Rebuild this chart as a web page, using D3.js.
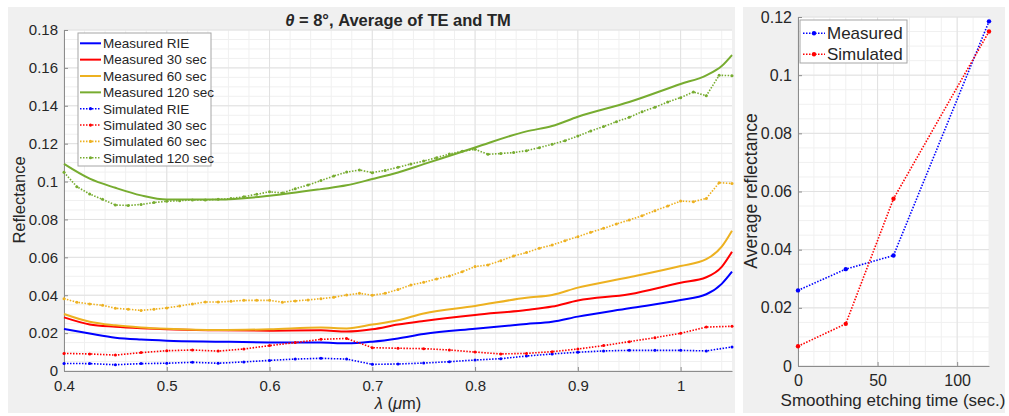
<!DOCTYPE html>
<html>
<head>
<meta charset="utf-8">
<script src="https://cdn.jsdelivr.net/npm/d3@7"></script>
<style>
body { margin: 0; background: #fff; }
svg text { font-family: "Liberation Sans", Arial, sans-serif; fill: #262626; }
</style>
</head>
<body>
<svg id="chart" width="1009" height="416"></svg>
<script>
// measured spectra (solid lines)
var lamMeas = [0.4, 0.425, 0.45, 0.475, 0.5, 0.55, 0.6, 0.65, 0.675, 0.7, 0.725, 0.75, 0.8, 0.85, 0.875, 0.9, 0.95, 1.0, 1.025, 1.04, 1.05];
var measRIE = [0.0222, 0.0198, 0.0176, 0.0166, 0.0160, 0.0155, 0.0151, 0.0150, 0.0146, 0.0155, 0.0172, 0.0195, 0.0223, 0.0248, 0.0260, 0.0287, 0.0331, 0.0375, 0.0405, 0.0460, 0.0524];
var meas30  = [0.0283, 0.0246, 0.0234, 0.0226, 0.0220, 0.0215, 0.0213, 0.0215, 0.0208, 0.0220, 0.0245, 0.0264, 0.0296, 0.0322, 0.0340, 0.0372, 0.0405, 0.0466, 0.0495, 0.0550, 0.0630];
var meas60  = [0.0301, 0.0260, 0.0241, 0.0230, 0.0223, 0.0216, 0.0220, 0.0229, 0.0225, 0.0245, 0.0268, 0.0304, 0.0343, 0.0387, 0.0401, 0.0440, 0.0495, 0.0554, 0.0590, 0.0656, 0.0740];
var meas120 = [0.1093, 0.1015, 0.0967, 0.0927, 0.0905, 0.0905, 0.0925, 0.0960, 0.0980, 0.1013, 0.1048, 0.1092, 0.1180, 0.1265, 0.1293, 0.1342, 0.1420, 0.1515, 0.1561, 0.1610, 0.1668];

// simulated spectra (dotted lines with dots)
var lamSimCoarse = [0.4, 0.425, 0.45, 0.475, 0.5, 0.525, 0.55, 0.575, 0.6, 0.625, 0.65, 0.675, 0.7, 0.725, 0.75, 0.775, 0.8, 0.825, 0.85, 0.875, 0.9, 0.925, 0.95, 0.975, 1.0, 1.025, 1.05];
var simRIE = [0.0040, 0.0039, 0.0033, 0.0039, 0.0041, 0.0046, 0.0041, 0.0048, 0.0056, 0.0063, 0.0067, 0.0063, 0.0035, 0.0037, 0.0042, 0.0049, 0.0058, 0.0065, 0.0079, 0.0090, 0.0099, 0.0106, 0.0109, 0.0109, 0.0109, 0.0106, 0.0127];
var sim30  = [0.0093, 0.0090, 0.0084, 0.0097, 0.0107, 0.0111, 0.0105, 0.0116, 0.0134, 0.0150, 0.0167, 0.0172, 0.0123, 0.0120, 0.0118, 0.0111, 0.0100, 0.0090, 0.0093, 0.0102, 0.0116, 0.0134, 0.0155, 0.0176, 0.0199, 0.0232, 0.0236];

var lamSimFine = [0.4, 0.4125, 0.425, 0.4375, 0.45, 0.4625, 0.475, 0.4875, 0.5, 0.5125, 0.525, 0.5375, 0.55, 0.5625, 0.575, 0.5875,
    0.6, 0.6125, 0.625, 0.6375, 0.65, 0.6625, 0.675, 0.6875, 0.7, 0.7125, 0.725, 0.7375, 0.75, 0.7625, 0.775, 0.7875,
    0.8, 0.8125, 0.825, 0.8375, 0.85, 0.8625, 0.875, 0.8875, 0.9, 0.9125, 0.925, 0.9375, 0.95, 0.9625, 0.975, 0.9875,
    1.0, 1.0125, 1.025, 1.0375, 1.05];
var sim60 = [0.0382, 0.0363, 0.0354, 0.0347, 0.0331, 0.0326, 0.0320, 0.0326, 0.0333, 0.0343, 0.0354, 0.0364, 0.0364, 0.0368, 0.0373, 0.0373,
    0.0373, 0.0363, 0.0370, 0.0375, 0.0382, 0.0389, 0.0401, 0.0410, 0.0400, 0.0410, 0.0430, 0.0454, 0.0468, 0.0486, 0.0501, 0.0524,
    0.0551, 0.0560, 0.0582, 0.0607, 0.0625, 0.0648, 0.0665, 0.0688, 0.0709, 0.0732, 0.0753, 0.0776, 0.0797, 0.0820, 0.0846, 0.0871,
    0.0897, 0.0894, 0.0911, 0.0994, 0.0990];
var sim120 = [0.1049, 0.0973, 0.0934, 0.0906, 0.0876, 0.0874, 0.0879, 0.0889, 0.0896, 0.0899, 0.0903, 0.0903, 0.0906, 0.0910, 0.0920, 0.0933,
    0.0946, 0.0940, 0.0962, 0.0982, 0.1005, 0.1029, 0.1050, 0.1061, 0.1047, 0.1059, 0.1075, 0.1093, 0.1108, 0.1126, 0.1145, 0.1160,
    0.1170, 0.1144, 0.1148, 0.1153, 0.1163, 0.1179, 0.1197, 0.1216, 0.1240, 0.1267, 0.1290, 0.1316, 0.1339, 0.1369, 0.1392, 0.1420,
    0.1443, 0.1473, 0.1453, 0.1561, 0.1559];

// average reflectance vs etching time
var etchTimes = [0, 30, 60, 120];
var avgMeasured = [0.0260, 0.0333, 0.0380, 0.1185];
var avgSimulated = [0.0068, 0.0145, 0.0575, 0.1150];

var xTicksLeft = [0.4, 0.5, 0.6, 0.7, 0.8, 0.9, 1];
var yTicksLeft = [0, 0.02, 0.04, 0.06, 0.08, 0.1, 0.12, 0.14, 0.16, 0.18];
var xTicksRight = [0, 50, 100];
var yTicksRight = [0, 0.02, 0.04, 0.06, 0.08, 0.1, 0.12];

var colBlue = '#0000ff', colRed = '#ff0000', colOrange = '#edb120', colGreen = '#77ac30';

var seriesLeft = [
    {name: 'Measured RIE', x: lamMeas, y: measRIE, col: colBlue, sim: false},
    {name: 'Measured 30 sec', x: lamMeas, y: meas30, col: colRed, sim: false},
    {name: 'Measured 60 sec', x: lamMeas, y: meas60, col: colOrange, sim: false},
    {name: 'Measured 120 sec', x: lamMeas, y: meas120, col: colGreen, sim: false},
    {name: 'Simulated RIE', x: lamSimCoarse, y: simRIE, col: colBlue, sim: true},
    {name: 'Simulated 30 sec', x: lamSimCoarse, y: sim30, col: colRed, sim: true},
    {name: 'Simulated 60 sec', x: lamSimFine, y: sim60, col: colOrange, sim: true},
    {name: 'Simulated 120 sec', x: lamSimFine, y: sim120, col: colGreen, sim: true}
];
var seriesRight = [
    {name: 'Measured', x: etchTimes, y: avgMeasured, col: colBlue},
    {name: 'Simulated', x: etchTimes, y: avgSimulated, col: colRed}
];

var svg = d3.select('#chart');
var fmt = function(d) { return String(+d.toFixed(3)); };

// gray figure panels
svg.append('rect').attr('x', 8).attr('y', 7).attr('width', 727).attr('height', 406).attr('fill', '#f0f0f0');
svg.append('rect').attr('x', 743).attr('y', 7).attr('width', 262).attr('height', 406).attr('fill', '#f0f0f0');

var drawAxes = function(g, x, y, opt) {
    var w = x.range()[1] - x.range()[0], h = y.range()[0] - y.range()[1];
    g.append('rect').attr('x', x.range()[0]).attr('y', y.range()[1])
        .attr('width', w).attr('height', h).attr('fill', '#fff');

    var minor = d3.range(x.domain()[0], x.domain()[1] + 1e-9, opt.xMinor);
    var minorY = d3.range(y.domain()[0], y.domain()[1] + 1e-9, opt.yMinor);
    g.append('g').selectAll('line').data(minor).enter().append('line')
        .attr('x1', function(d) { return x(d); }).attr('x2', function(d) { return x(d); })
        .attr('y1', y.range()[0]).attr('y2', y.range()[1])
        .attr('stroke', '#f0f0f0').attr('stroke-width', 1);
    g.append('g').selectAll('line').data(minorY).enter().append('line')
        .attr('y1', function(d) { return y(d); }).attr('y2', function(d) { return y(d); })
        .attr('x1', x.range()[0]).attr('x2', x.range()[1])
        .attr('stroke', '#f0f0f0').attr('stroke-width', 1);
    g.append('g').selectAll('line').data(opt.xTicks).enter().append('line')
        .attr('x1', function(d) { return x(d); }).attr('x2', function(d) { return x(d); })
        .attr('y1', y.range()[0]).attr('y2', y.range()[1])
        .attr('stroke', '#e1e1e1').attr('stroke-width', 1);
    g.append('g').selectAll('line').data(opt.yTicks).enter().append('line')
        .attr('y1', function(d) { return y(d); }).attr('y2', function(d) { return y(d); })
        .attr('x1', x.range()[0]).attr('x2', x.range()[1])
        .attr('stroke', '#e1e1e1').attr('stroke-width', 1);

    var ax = g.append('g').attr('transform', 'translate(0,' + y.range()[0] + ')')
        .call(d3.axisBottom(x).tickValues(opt.xTicks).tickFormat(fmt)
            .tickSizeInner(-4).tickSizeOuter(0).tickPadding(9));
    var ay = g.append('g').attr('transform', 'translate(' + x.range()[0] + ',0)')
        .call(d3.axisLeft(y).tickValues(opt.yTicks).tickFormat(fmt)
            .tickSizeInner(-4).tickSizeOuter(0).tickPadding(6));
    [ax, ay].forEach(function(a) {
        a.select('.domain').attr('stroke', '#8c8c8c');
        a.selectAll('.tick line').attr('stroke', '#8c8c8c');
        a.selectAll('.tick text').style('font-size', opt.fontSize + 'px')
            .style('font-family', '"Liberation Sans", Arial, sans-serif').attr('fill', '#262626');
    });
};

var drawSeries = function(g, x, y, s, dotted, r) {
    var pts = s.x.map(function(v, i) { return [v, s.y[i]]; });
    var line = d3.line().x(function(d) { return x(d[0]); }).y(function(d) { return y(d[1]); })
        .curve(dotted ? d3.curveLinear : d3.curveMonotoneX);
    g.append('path').datum(pts).attr('d', line).attr('fill', 'none')
        .attr('stroke', s.col).attr('stroke-width', dotted ? 1.6 : 2)
        .attr('stroke-dasharray', dotted ? '1.5,1.5' : null);
    if (dotted) {
        g.append('g').selectAll('circle').data(pts).enter().append('circle')
            .attr('cx', function(d) { return x(d[0]); }).attr('cy', function(d) { return y(d[1]); })
            .attr('r', r).attr('fill', s.col);
    }
};

// ---- left: reflectance spectra
var xL = d3.scaleLinear().domain([0.4, 1.05]).range([64, 732]);
var yL = d3.scaleLinear().domain([0, 0.18]).range([371, 30]);
var gL = svg.append('g');
drawAxes(gL, xL, yL, {xTicks: xTicksLeft, yTicks: yTicksLeft, xMinor: 0.02, yMinor: 0.005, fontSize: 15});
seriesLeft.forEach(function(s) { drawSeries(gL, xL, yL, s, s.sim, 1.5); });

var title = gL.append('text').attr('x', 398).attr('y', 26).attr('text-anchor', 'middle')
    .style('font-size', '16.5px').style('font-weight', 'bold');
title.append('tspan').style('font-style', 'italic').text('\u03b8');
title.append('tspan').text(' = 8\u00b0, Average of TE and TM');

gL.append('text').attr('transform', 'translate(25,200) rotate(-90)').attr('text-anchor', 'middle')
    .style('font-size', '16.5px').text('Reflectance');
var xlab = gL.append('text').attr('x', 398).attr('y', 409).attr('text-anchor', 'middle').style('font-size', '16.5px');
xlab.append('tspan').style('font-style', 'italic').text('\u03bb');
xlab.append('tspan').text(' (');
xlab.append('tspan').style('font-style', 'italic').text('\u03bc');
xlab.append('tspan').text('m)');

// legend
var legL = gL.append('g').attr('transform', 'translate(78,33)');
legL.append('rect').attr('x', 0).attr('y', 0).attr('width', 133).attr('height', 133)
    .attr('fill', '#fff').attr('stroke', '#a6a6a6').attr('stroke-width', 1);
var rowsL = legL.selectAll('.row').data(seriesLeft).enter().append('g').attr('class', 'row')
    .attr('transform', function(d, i) { return 'translate(0,' + (10.3 + i * 16.35) + ')'; });
rowsL.append('line').attr('x1', 2).attr('x2', 23).attr('y1', 0).attr('y2', 0)
    .attr('stroke', function(d) { return d.col; })
    .attr('stroke-width', function(d) { return d.sim ? 1.6 : 2; })
    .attr('stroke-dasharray', function(d) { return d.sim ? '1.5,1.5' : null; });
rowsL.filter(function(d) { return d.sim; }).append('circle').attr('cx', 12.5).attr('cy', 0).attr('r', 1.6)
    .attr('fill', function(d) { return d.col; });
rowsL.append('text').attr('x', 25).attr('y', 4.8).style('font-size', '13.5px').text(function(d) { return d.name; });

// ---- right: average reflectance vs etch time
var xR = d3.scaleLinear().domain([0, 120]).range([798, 989]);
var yR = d3.scaleLinear().domain([0, 0.12]).range([366, 17]);
var gR = svg.append('g');
drawAxes(gR, xR, yR, {xTicks: xTicksRight, yTicks: yTicksRight, xMinor: 10, yMinor: 0.005, fontSize: 16});
seriesRight.forEach(function(s) { drawSeries(gR, xR, yR, s, true, 2.2); });

gR.append('text').attr('transform', 'translate(757,191) rotate(-90)').attr('text-anchor', 'middle')
    .style('font-size', '17.5px').text('Average reflectance');
gR.append('text').attr('x', 893).attr('y', 406).attr('text-anchor', 'middle')
    .style('font-size', '17px').text('Smoothing etching time (sec.)');

var legR = gR.append('g').attr('transform', 'translate(800,20)');
legR.append('rect').attr('x', 0).attr('y', 0).attr('width', 107).attr('height', 43)
    .attr('fill', '#fff').attr('stroke', '#a6a6a6').attr('stroke-width', 1);
var rowsR = legR.selectAll('.row').data(seriesRight).enter().append('g').attr('class', 'row')
    .attr('transform', function(d, i) { return 'translate(0,' + (13.3 + i * 21) + ')'; });
rowsR.append('line').attr('x1', 3).attr('x2', 25).attr('y1', 0).attr('y2', 0)
    .attr('stroke', function(d) { return d.col; }).attr('stroke-width', 1.6).attr('stroke-dasharray', '1.5,1.5');
rowsR.append('circle').attr('cx', 14).attr('cy', 0).attr('r', 2.2).attr('fill', function(d) { return d.col; });
rowsR.append('text').attr('x', 27).attr('y', 6).style('font-size', '17px').text(function(d) { return d.name; });
</script>
</body>
</html>
